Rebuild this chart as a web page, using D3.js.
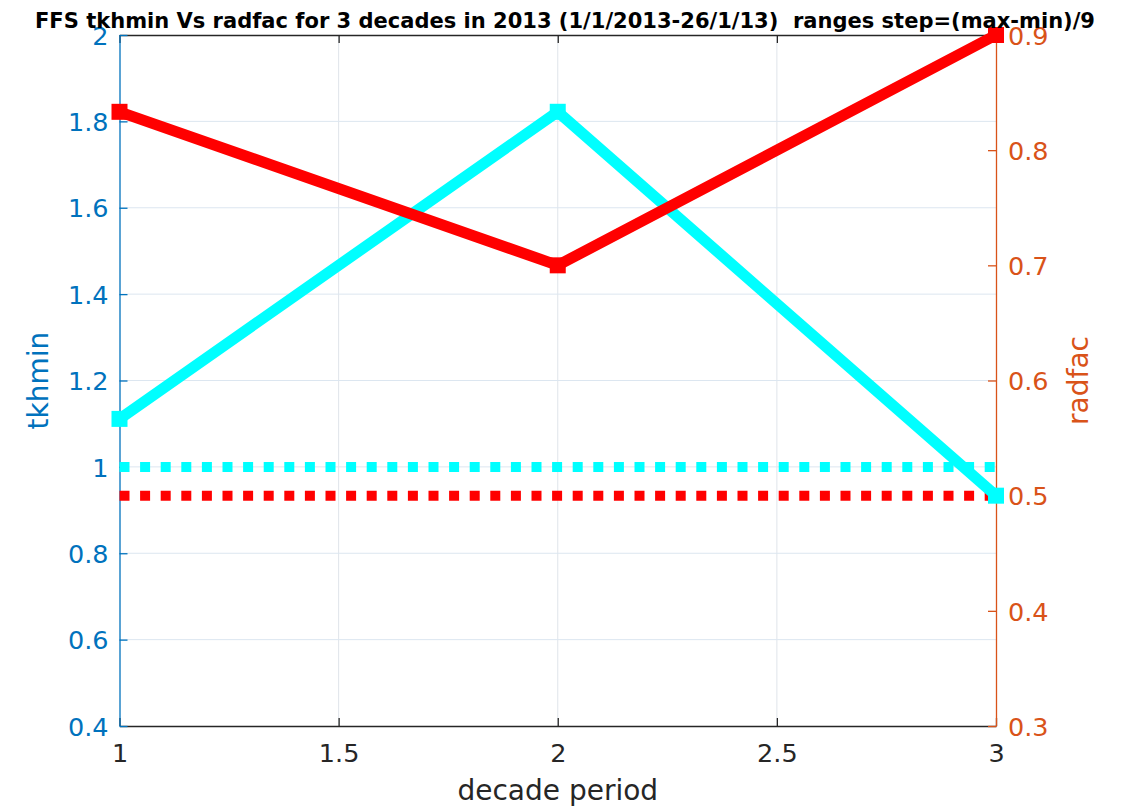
<!DOCTYPE html>
<html>
<head>
<meta charset="utf-8">
<script src="https://cdn.jsdelivr.net/npm/d3@7"></script>
<style>
body { margin: 0; background: #fff; }
svg text { font-family: "DejaVu Sans", sans-serif; }
</style>
</head>
<body>
<div id="chart"></div>
<script>
/***********************************************************************/
//Data
/***********************************************************************/
const decades = [1, 2, 3]
const tkhmin = [1.1111, 1.8222, 0.9333]
const radfac = [0.8333, 0.7, 0.9]
const tkhminRef = 1.0
const radfacRef = 0.5

const xTicks = [1, 1.5, 2, 2.5, 3]
const yLeftTicks = [0.4, 0.6, 0.8, 1, 1.2, 1.4, 1.6, 1.8, 2]
const yRightTicks = [0.3, 0.4, 0.5, 0.6, 0.7, 0.8, 0.9]

const title = 'FFS tkhmin Vs radfac for 3 decades in 2013 (1/1/2013-26/1/13)  ranges step=(max-min)/9'

/***********************************************************************/
//Plot Area
/***********************************************************************/
const width = 1127
const height = 809
const margin = { left : 119.5, right : 131, top : 35, bottom : 83 }
const plotW = width - margin.left - margin.right
const plotH = height - margin.top - margin.bottom

const blue = '#0072BD'
const orange = '#D95319'
const dark = '#262626'

const svg = d3.select('#chart').append('svg')
	.attr('width', width)
	.attr('height', height)

const g = svg.append('g')
	.attr('transform', `translate(${margin.left},${margin.top})`)

/***********************************************************************/
//Scale
/***********************************************************************/
const x = d3.scaleLinear().domain([1, 3]).range([0, plotW])
const yL = d3.scaleLinear().domain([0.4, 2]).range([plotH, 0])
const yR = d3.scaleLinear().domain([0.3, 0.9]).range([plotH, 0])

/***********************************************************************/
//Grid
/***********************************************************************/
const grid = g.append('g').attr('class', 'grid')
grid.selectAll('.gx').data(xTicks.slice(1, -1)).join('line')
	.attr('x1', d => x(d)).attr('x2', d => x(d))
	.attr('y1', 0).attr('y2', plotH)
	.attr('stroke', '#dfe4ea').attr('stroke-width', 1)
grid.selectAll('.gy').data(yLeftTicks.slice(1, -1)).join('line')
	.attr('x1', 0).attr('x2', plotW)
	.attr('y1', d => yL(d)).attr('y2', d => yL(d))
	.attr('stroke', '#dce6f0').attr('stroke-width', 1)

/***********************************************************************/
//Axes
/***********************************************************************/
const fmt = d => d3.format('~g')(d)

const xAxisG = g.append('g')
	.attr('transform', `translate(0,${plotH})`)
	.call(d3.axisBottom(x).tickValues(xTicks).tickFormat(fmt).tickSize(-8).tickSizeOuter(0).tickPadding(18))
const xTopG = g.append('g')
	.call(d3.axisTop(x).tickValues(xTicks).tickFormat('').tickSize(-8).tickSizeOuter(0))
const yLG = g.append('g')
	.call(d3.axisLeft(yL).tickValues(yLeftTicks).tickFormat(fmt).tickSize(-8).tickSizeOuter(0).tickPadding(11))
const yRG = g.append('g')
	.attr('transform', `translate(${plotW},0)`)
	.call(d3.axisRight(yR).tickValues(yRightTicks).tickFormat(fmt).tickSize(-8).tickSizeOuter(0).tickPadding(12))

;[xAxisG, xTopG].forEach(a => {
	a.select('.domain').attr('stroke', dark)
	a.selectAll('.tick line').attr('stroke', dark)
	a.selectAll('text').attr('fill', dark).style('font-size', '25.5px')
})
yLG.select('.domain').attr('stroke', blue)
yLG.selectAll('.tick line').attr('stroke', blue)
yLG.selectAll('text').attr('fill', blue).style('font-size', '25.5px').attr('dy', '0.36em')
yRG.select('.domain').attr('stroke', orange)
yRG.selectAll('.tick line').attr('stroke', orange)
yRG.selectAll('text').attr('fill', orange).style('font-size', '25.5px').attr('dy', '0.36em')
g.selectAll('.domain').attr('stroke-width', 1.3)
g.selectAll('.tick line').attr('stroke-width', 1.3)

/***********************************************************************/
// Plotting
/***********************************************************************/
const dotted = [
	{ y : yL(tkhminRef), color : '#00FFFF' },
	{ y : yR(radfacRef), color : '#FF0000' }
]
g.selectAll('.ref').data(dotted).join('line')
	.attr('x1', 0).attr('x2', plotW)
	.attr('y1', d => d.y).attr('y2', d => d.y)
	.attr('stroke', d => d.color)
	.attr('stroke-width', 10)
	.attr('stroke-dasharray', '10 10.6')

const series = [
	{ values : tkhmin, y : yL, color : '#00FFFF' },
	{ values : radfac, y : yR, color : '#FF0000' }
]

series.forEach(({ values, y, color }) => {
	const pts = decades.map((d, i) => [x(d), y(values[i])])
	g.append('path')
		.datum(pts)
		.attr('d', d3.line())
		.attr('fill', 'none')
		.attr('stroke', color)
		.attr('stroke-width', 11)
		.attr('stroke-linejoin', 'miter')
	g.selectAll(null).data(pts).join('rect')
		.attr('x', d => d[0] - 8).attr('y', d => d[1] - 8)
		.attr('width', 16).attr('height', 16)
		.attr('fill', color)
})

/***********************************************************************/
//Labels
/***********************************************************************/
svg.append('text')
	.attr('x', 565).attr('y', 28)
	.attr('text-anchor', 'middle')
	.attr('font-weight', 'bold')
	.attr('textLength', 1060)
	.attr('lengthAdjust', 'spacingAndGlyphs')
	.style('font-size', '21.5px')
	.style('white-space', 'pre')
	.attr('fill', '#000')
	.text(title)

svg.append('text')
	.attr('x', margin.left + plotW / 2).attr('y', 800)
	.attr('text-anchor', 'middle')
	.style('font-size', '28px')
	.attr('fill', dark)
	.text('decade period')

svg.append('text')
	.attr('transform', `translate(48,${margin.top + plotH / 2}) rotate(-90)`)
	.attr('text-anchor', 'middle')
	.style('font-size', '28px')
	.attr('fill', blue)
	.text('tkhmin')

svg.append('text')
	.attr('transform', `translate(1068,${margin.top + plotH / 2}) rotate(-90)`)
	.attr('text-anchor', 'middle')
	.attr('dy', '0.7em')
	.style('font-size', '28px')
	.attr('fill', orange)
	.text('radfac')
</script>
</body>
</html>
